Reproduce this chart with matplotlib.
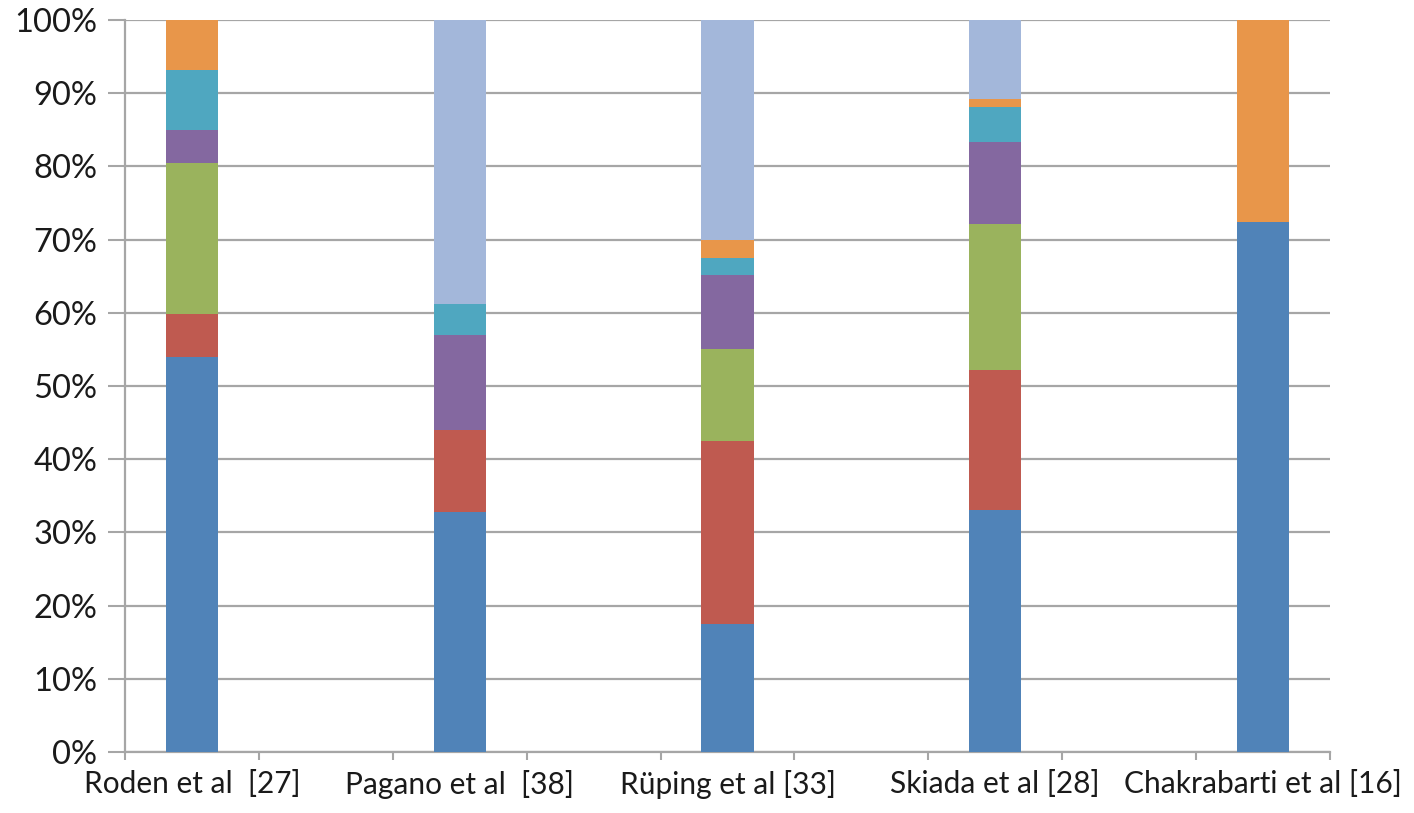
import numpy as np
import matplotlib.pyplot as plt
from matplotlib.ticker import FixedLocator, PercentFormatter

# studies (blank slots sit between them on the category axis)
studies = ["Roden et al  [27]", "Pagano et al  [38]", "Rüping et al [33]",
           "Skiada et al [28]", "Chakrabarti et al [16]"]

# share of cases per group, in %, bottom to top of each stack
s_blue   = [54.0, 32.8, 17.5, 33.0, 72.4]
s_red    = [5.8, 11.2, 25.0, 19.2, 0.0]
s_green  = [20.7, 0.0, 12.5, 19.9, 0.0]
s_purple = [4.5, 13.0, 10.2, 11.2, 0.0]
s_teal   = [8.2, 4.2, 2.3, 4.8, 0.0]
s_orange = [6.8, 0.0, 2.5, 1.1, 27.6]
s_light  = [0.0, 38.8, 30.0, 10.8, 0.0]

series = [s_blue, s_red, s_green, s_purple, s_teal, s_orange, s_light]
colours = ["#5083b8", "#bf5a50", "#9ab35d", "#8468a0", "#4fa7c0", "#e8964a", "#a3b7da"]

plt.rcParams['font.family'] = ['Lato', 'DejaVu Sans']

fig = plt.figure(figsize=(14.14, 8.13), dpi=100)
ax = fig.add_axes([0.0884, 0.075, 0.8522, 0.9004])

# 9 slots on the axis, studies on every second one
x = np.arange(len(studies)) * 2
bottom = np.zeros(len(studies))
for vals, c in zip(series, colours):
    vals = np.array(vals)
    ax.bar(x, vals, bottom=bottom, width=0.39, color=c, zorder=3, linewidth=0)
    bottom += vals

ax.set_xlim(-0.5, 8.5)
ax.set_ylim(0, 100)

ax.yaxis.set_major_locator(FixedLocator(np.arange(0, 101, 10)))
ax.yaxis.set_major_formatter(PercentFormatter(decimals=0))
ax.grid(True, axis="y", color="#a6a6a6", linewidth=1.6, zorder=0)

ax.set_xticks(x)
ax.set_xticklabels(studies)
ax.set_xticks(np.arange(-0.5, 9.0, 1.0), minor=True)
ax.tick_params(axis="x", which="major", length=0, pad=13, labelsize=21.5, colors="#1a1a1a")
ax.tick_params(axis="x", which="minor", length=6, width=1.5, color="#a6a6a6")
ax.tick_params(axis="y", length=12, width=1.5, color="#a6a6a6", pad=8,
               labelsize=23.5, labelcolor="#1a1a1a")

for side in ["top", "right"]:
    ax.spines[side].set_visible(False)
for side in ["left", "bottom"]:
    ax.spines[side].set_color("#a6a6a6")
    ax.spines[side].set_linewidth(1.6)

fig.savefig("out.png", dpi=100)
